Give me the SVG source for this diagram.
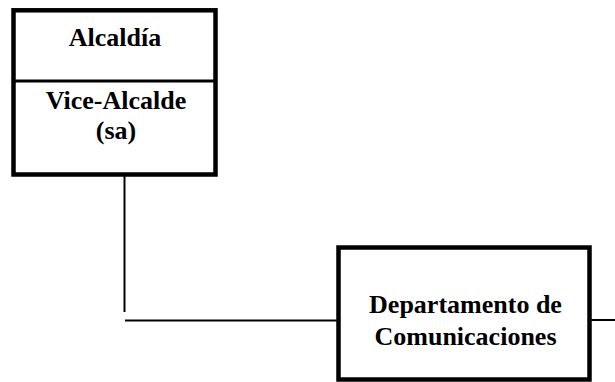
<svg xmlns="http://www.w3.org/2000/svg" width="615" height="382" viewBox="0 0 615 382">
<style>
.box{fill:#fff;stroke:#000;stroke-width:4.5}
.div{stroke:#000;stroke-width:3}
.conn{stroke:#000;stroke-width:2;fill:none}
.t{font-family:'Liberation Serif','Times New Roman',Times,serif;font-weight:700;font-size:26px;text-anchor:middle;fill:#000}
</style>
<rect width="615" height="382" fill="#fff"/>
<g id="connectors">
<line class="conn" x1="124.5" y1="176" x2="124.5" y2="312"/>
<line class="conn" x1="125" y1="320.5" x2="337" y2="320.5"/>
<line class="conn" x1="591" y1="320" x2="615" y2="320"/>
</g>
<g id="alcaldia">
<rect class="box" x="13.5" y="10.3" width="202" height="164.2"/>
<line class="div" x1="13.5" y1="81" x2="215.5" y2="81"/>
<text class="t" x="115" y="46">Alcaldía</text>
<text class="t" x="116" y="109">Vice-Alcalde</text>
<text class="t" x="116" y="138.5">(sa)</text>
</g>
<g id="departamento">
<rect class="box" x="338.5" y="247.5" width="251" height="132"/>
<text class="t" x="465.5" y="313">Departamento de</text>
<text class="t" x="465.5" y="345">Comunicaciones</text>
</g>
</svg>
